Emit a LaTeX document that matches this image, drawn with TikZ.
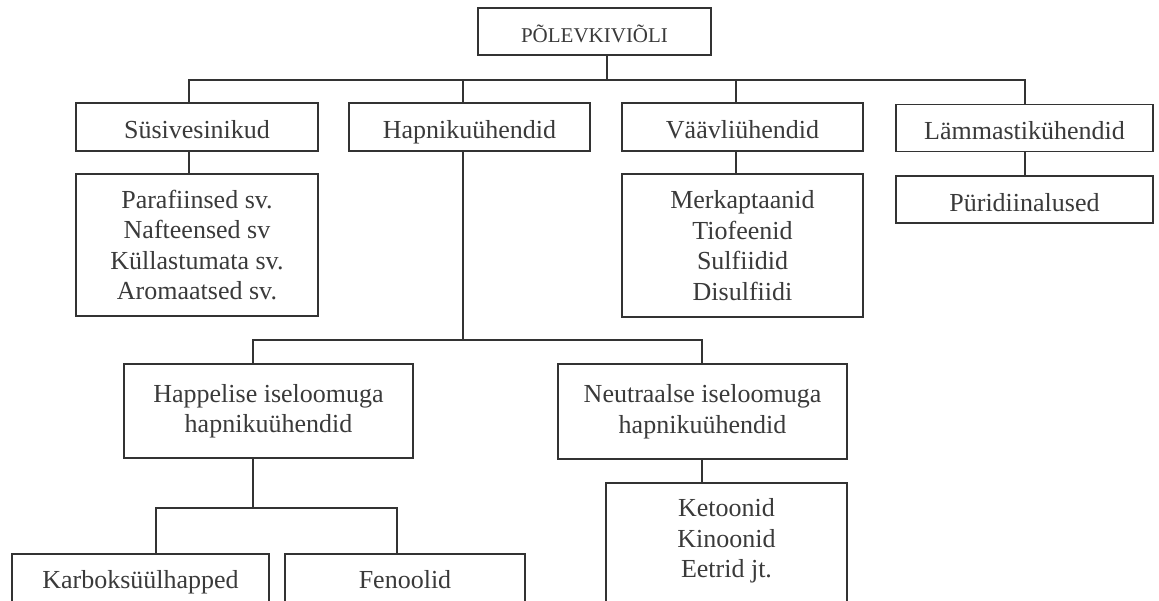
\documentclass[tikz,border=0pt]{standalone}
\usepackage{fontspec}
\setmainfont{Liberation Serif}
\definecolor{ink}{HTML}{333333}
\definecolor{txt}{HTML}{3A3A3A}
\tikzset{
  box/.style={draw=ink, line width=1.5pt, rectangle, inner sep=0pt, align=center,
    text=txt, font=\fontsize{26}{30.5}\selectfont},
  one/.style={text height=23pt, text depth=0pt},
  lbl/.style={inner sep=0pt, align=center, text=txt, font=\fontsize{26}{30.5}\selectfont},
  conn/.style={draw=ink, line width=1.5pt, line cap=rect}
}
\begin{document}
\begin{tikzpicture}[x=1pt, y=-1pt]
\useasboundingbox (0,0) rectangle (1159,600);
\clip (0,0) rectangle (1159,600);
\fill[white] (0,0) rectangle (1159,600);

% top
\node[box, minimum width=233pt, minimum height=47pt, font=\fontsize{21}{24}\selectfont, text height=21pt, text depth=0pt] (top) at (594.5,31.5) {PÕLEVKIVIÕLI};

% level 2
\node[box, one, minimum width=242pt, minimum height=48pt] (susi) at (197,127) {Süsivesinikud};
\node[box, one, minimum width=241pt, minimum height=48pt] (hap) at (469.5,127) {Hapnikuühendid};
\node[box, one, minimum width=241pt, minimum height=48pt] (vaav) at (742.5,127) {Väävliühendid};
\node[box, one, minimum width=257pt, minimum height=47pt] (lamm) at (1024.5,128) {Lämmastikühendid};

% level 3
\node[box, minimum width=242pt, minimum height=142pt] (para) at (197,245) {Parafiinsed sv.\\Nafteensed sv\\Küllastumata sv.\\Aromaatsed sv.};
\node[box, minimum width=241pt, minimum height=143pt] (merk) at (742.5,245.5) {Merkaptaanid\\Tiofeenid\\Sulfiidid\\Disulfiidi};
\node[box, one, minimum width=257pt, minimum height=47pt] (puri) at (1024.5,199.5) {Püridiinalused};

% oxygen subgroups
\node[box, minimum width=289pt, minimum height=94pt] (happ) at (268.5,411) {Happelise iseloomuga\\hapnikuühendid};
\node[box, minimum width=289pt, minimum height=95pt] (neut) at (702.5,411.5) {Neutraalse iseloomuga\\hapnikuühendid};

% bottom boxes (cut by the page edge)
\node[box, minimum width=257pt, minimum height=100pt] (karb) at (140.5,604) {};
\node[box, minimum width=240pt, minimum height=100pt] (feno) at (405,604) {};
\node[box, minimum width=241pt, minimum height=160pt] (keto) at (726.5,563) {};
\node[lbl, anchor=base] (karbT) at (140.5,588) {Karboksüülhapped};
\node[lbl, anchor=base] (fenoT) at (405,588) {Fenoolid};
\node[lbl] (ketoT) at (726.5,541) {Ketoonid\\Kinoonid\\Eetrid jt.};

% junction coordinates
\coordinate (j0) at (607,80);
\coordinate (d1) at (189,80);
\coordinate (d2) at (463,80);
\coordinate (d3) at (736,80);
\coordinate (d4) at (1025,80);
\coordinate (e0) at (463,340);
\coordinate (e1) at (253,340);
\coordinate (e2) at (702,340);
\coordinate (f0) at (253,508);
\coordinate (f1) at (156,508);
\coordinate (f2) at (397,508);

% connectors
\draw[conn] (j0 |- top.south) -- (j0);
\draw[conn] (d1 |- susi.north) -- (d1) -- (d4) -- (d4 |- lamm.north);
\draw[conn] (d2) -- (d2 |- hap.north);
\draw[conn] (d3) -- (d3 |- vaav.north);
\draw[conn] (d1 |- susi.south) -- (d1 |- para.north);
\draw[conn] (d3 |- vaav.south) -- (d3 |- merk.north);
\draw[conn] (d4 |- lamm.south) -- (d4 |- puri.north);
\draw[conn] (d2 |- hap.south) -- (e0);
\draw[conn] (e1 |- happ.north) -- (e1) -- (e2) -- (e2 |- neut.north);
\draw[conn] (e1 |- happ.south) -- (f0);
\draw[conn] (f1 |- karb.north) -- (f1) -- (f2) -- (f2 |- feno.north);
\draw[conn] (e2 |- neut.south) -- (e2 |- keto.north);
\end{tikzpicture}
\end{document}
